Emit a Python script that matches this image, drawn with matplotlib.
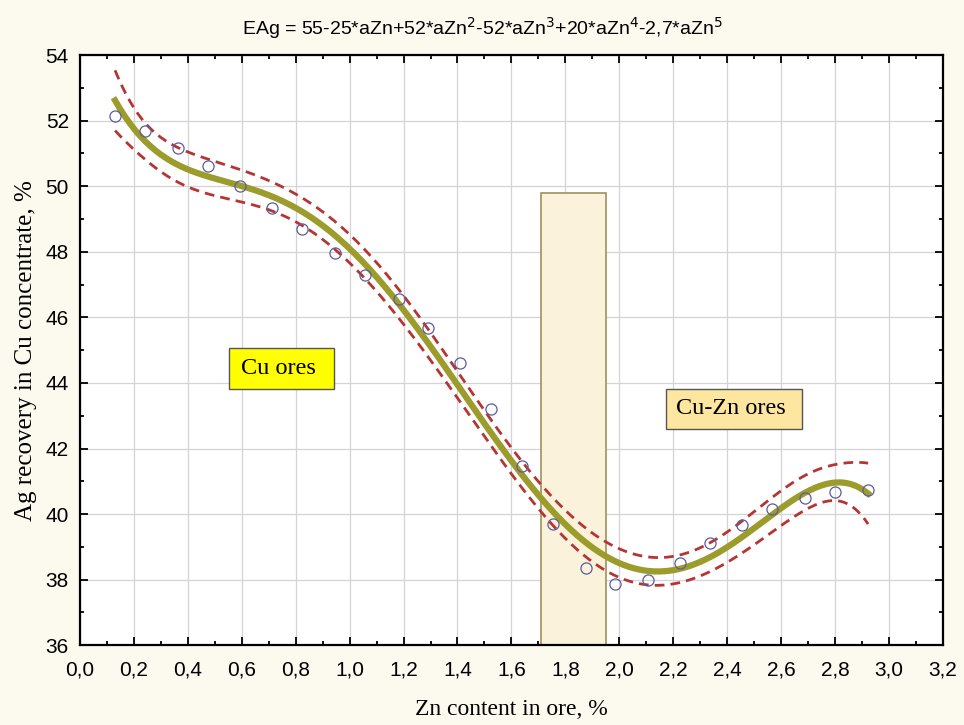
import numpy as np
import matplotlib
matplotlib.use('Agg')
import matplotlib.pyplot as plt
from matplotlib.patches import Rectangle
from matplotlib.ticker import MultipleLocator, FormatStrFormatter

# data points
zn = [0.13, 0.242, 0.363, 0.476, 0.593, 0.713, 0.824, 0.945, 1.057, 1.183,
      1.292, 1.409, 1.524, 1.641, 1.753, 1.875, 1.986, 2.106, 2.225, 2.336,
      2.457, 2.568, 2.689, 2.802, 2.923]
eag = [52.14, 51.69, 51.17, 50.62, 50.0, 49.35, 48.69, 47.95, 47.29, 46.56,
       45.67, 44.6, 43.22, 41.47, 39.69, 38.37, 37.86, 37.99, 38.52, 39.13,
       39.68, 40.15, 40.5, 40.68, 40.72]

zone_x = [1.71, 1.95]
zone_top = 49.8

labels = ["Cu ores", "Cu-Zn ores"]
label_boxes = [(0.552, 43.81, 0.942, 45.06), (2.173, 42.60, 2.677, 43.82)]
label_colors = ["#ffff00", "#fde6a0"]

title = "EAg = 55-25*aZn+52*aZn$^2$-52*aZn$^3$+20*aZn$^4$-2,7*aZn$^5$"
xlabel = "Zn content in ore, %"
ylabel = "Ag recovery in Cu concentrate, %"

BG = "#fcf9ef"
SERIF = ["Liberation Serif", "DejaVu Serif"]
SANS = ["Liberation Sans", "DejaVu Sans"]


def poly_fit(x, y, deg=5, t=2.093):
    # polynomial regression with 95% confidence band for the mean
    x = np.asarray(x)
    y = np.asarray(y)
    X = np.vander(x, deg + 1)
    coef, *_ = np.linalg.lstsq(X, y, rcond=None)
    resid = y - X @ coef
    dof = len(x) - (deg + 1)
    s2 = resid @ resid / dof
    cov = np.linalg.inv(X.T @ X)
    xs = np.linspace(x.min(), x.max(), 300)
    Xs = np.vander(xs, deg + 1)
    ys = Xs @ coef
    se = np.sqrt(s2 * np.einsum("ij,jk,ik->i", Xs, cov, Xs))
    return xs, ys, ys - t * se, ys + t * se


xs, ys, lo, hi = poly_fit(zn, eag)

fig = plt.figure(figsize=(9.64, 7.25), dpi=100, facecolor=BG)
ax = fig.add_axes([0.083, 0.110, 0.895, 0.814])
ax.set_facecolor("white")

ax.add_patch(Rectangle((zone_x[0], 36), zone_x[1] - zone_x[0], zone_top - 36,
                       facecolor="#fbf2dc", edgecolor="#a09060", lw=1.2, zorder=1.5))

ax.plot(xs, hi, "--", color="#b53535", lw=2.0, dashes=(3.5, 2.2), zorder=3)
ax.plot(xs, lo, "--", color="#b53535", lw=2.0, dashes=(3.5, 2.2), zorder=3)
ax.plot(xs, ys, "-", color="#9c9c2c", lw=4.5, zorder=4)
ax.plot(zn, eag, "o", mfc="none", mec="#5c5c9c", ms=8, mew=0.9, zorder=5)

for txt, (x0, y0, x1, y1), fc in zip(labels, label_boxes, label_colors):
    ax.add_patch(Rectangle((x0, y0), x1 - x0, y1 - y0, facecolor=fc,
                           edgecolor="#555555", lw=1, zorder=6))
    ax.text((x0 + x1) / 2 - 0.012, (y0 + y1) / 2, txt, family=SERIF, fontsize=17.5,
            ha="center", va="center", zorder=7)

ax.set_xlim(0, 3.2)
ax.set_ylim(36, 54)
ax.xaxis.set_major_locator(MultipleLocator(0.2))
ax.xaxis.set_minor_locator(MultipleLocator(0.1))
ax.yaxis.set_major_locator(MultipleLocator(2))
ax.yaxis.set_minor_locator(MultipleLocator(1))
ax.xaxis.set_major_formatter(lambda v, p: f"{v:.1f}".replace(".", ","))
ax.yaxis.set_major_formatter(FormatStrFormatter("%d"))
ax.tick_params(which="both", direction="in", top=True, right=True, width=1.3,
               labelsize=15)
ax.tick_params(axis="x", pad=11)
ax.tick_params(axis="y", pad=8)
ax.tick_params(which="major", length=6)
ax.tick_params(which="minor", length=3)
for lab in ax.get_xticklabels() + ax.get_yticklabels():
    lab.set_family(SANS)
ax.grid(True, which="major", color="#d4d4d4", lw=0.9)
ax.set_axisbelow(True)
for sp in ax.spines.values():
    sp.set_linewidth(1.6)

ax.set_xlabel(xlabel, family=SERIF, fontsize=17, labelpad=14)
ax.set_ylabel(ylabel, family=SERIF, fontsize=18, labelpad=6)
fig.text(0.5, 0.962, title, family=SANS, fontsize=14, ha="center", va="center")

fig.savefig("out.png", dpi=100, facecolor=BG)
